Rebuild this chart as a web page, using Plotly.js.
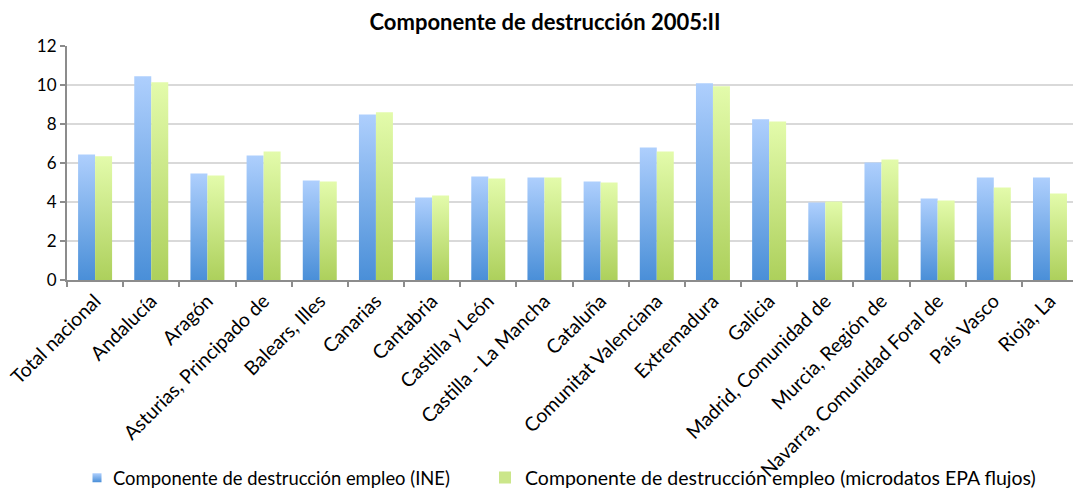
<!DOCTYPE html>
<html>
<head>
<meta charset="utf-8">
<script src="https://cdn.plot.ly/plotly-3.0.1.min.js"></script>
<style>
html,body{margin:0;padding:0;background:#fff;}
#chart{width:1073px;height:488px;}
</style>
</head>
<body>
<div id="chart"></div>
<script>
const categories = ["Total nacional","Andalucía","Aragón","Asturias, Principado de","Balears, Illes","Canarias","Cantabria","Castilla y León","Castilla - La Mancha","Cataluña","Comunitat Valenciana","Extremadura","Galicia","Madrid, Comunidad de","Murcia, Región de","Navarra, Comunidad Foral de","País Vasco","Rioja, La"];
const ineValues = [6.44,10.45,5.46,6.39,5.10,8.49,4.23,5.31,5.26,5.05,6.80,10.09,8.24,3.97,6.03,4.18,5.26,5.26];
const epaValues = [6.34,10.14,5.36,6.59,5.05,8.60,4.33,5.21,5.26,5.00,6.59,9.93,8.13,4.02,6.18,4.08,4.74,4.43];
const seriesNames = ["Componente de destrucción empleo (INE)","Componente de destrucción empleo (microdatos EPA flujos)"];
const chartTitle = "Componente de destrucción 2005:II";

const font = "Lato, 'Open Sans', sans-serif";
const data = [
  {type:"bar", x:categories, y:ineValues, name:seriesNames[0], legend:"legend", marker:{color:"#7aaeea", line:{width:0}}},
  {type:"bar", x:categories, y:epaValues, name:seriesNames[1], legend:"legend2", marker:{color:"#cbe68a", line:{width:0}}}
];
const legendBase = {orientation:"h", xref:"container", yref:"container", xanchor:"left", y:0.021, yanchor:"middle",
  font:{family:font, size:18.4, color:"#000"}, itemwidth:30, bgcolor:"rgba(0,0,0,0)", borderwidth:0};
const layout = {
  width:1073, height:488,
  margin:{l:67, r:0, t:46, b:208},
  paper_bgcolor:"#fff", plot_bgcolor:"#fff",
  font:{family:font, size:18, color:"#000"},
  title:{text:"<b>"+chartTitle+"</b>", x:0.508, xanchor:"center", y:0.955, yanchor:"middle", font:{family:font, size:22, color:"#000"}},
  bargap:0.395, bargroupgap:0,
  barmode:"group",
  showlegend:true,
  legend:Object.assign({}, legendBase, {x:73/1073}),
  legend2:Object.assign({}, legendBase, {x:485/1073, font:{family:font, size:19.5, color:"#000"}}),
  xaxis:{type:"category", range:[-0.5,17.41], tickangle:-45, showline:true, linecolor:"#8c8c8c", linewidth:2,
         ticks:"outside", tickson:"boundaries", ticklen:5, tickcolor:"#8c8c8c", tickwidth:2, showgrid:false,
         tickfont:{family:font, size:19.5, color:"#000"}, automargin:false},
  yaxis:{range:[0,12], dtick:2, showline:true, linecolor:"#8c8c8c", linewidth:2, ticks:"outside", ticklen:5, tickwidth:2,
         tickcolor:"#8c8c8c", showgrid:true, gridcolor:"#d9d9d9", gridwidth:2, zeroline:false,
         tickfont:{family:font, size:17, color:"#000"}, automargin:false}
};
Plotly.newPlot("chart", data, layout, {displayModeBar:false, staticPlot:true}).then(function(gd){
  const svg = gd.querySelector("svg.main-svg");
  const ns = "http://www.w3.org/2000/svg";
  const defs = document.createElementNS(ns, "defs");
  function grad(id, top, bottom){
    const g = document.createElementNS(ns, "linearGradient");
    g.setAttribute("id", id); g.setAttribute("x1","0"); g.setAttribute("y1","0"); g.setAttribute("x2","0"); g.setAttribute("y2","1");
    const s1 = document.createElementNS(ns, "stop"); s1.setAttribute("offset","0"); s1.setAttribute("stop-color", top);
    const s2 = document.createElementNS(ns, "stop"); s2.setAttribute("offset","1"); s2.setAttribute("stop-color", bottom);
    g.appendChild(s1); g.appendChild(s2); defs.appendChild(g);
  }
  grad("gBlue", "#aecffd", "#4a8fd8");
  grad("gGreen", "#e3fbab", "#add05c");
  svg.insertBefore(defs, svg.firstChild);
  const ids = ["gBlue","gGreen"];
  gd.querySelectorAll(".barlayer .trace").forEach(function(t, i){
    t.querySelectorAll("path").forEach(function(p){ p.style.fill = "url(#"+ids[i]+")"; });
  });
  gd.querySelectorAll(".legend").forEach(function(lg, i){
    lg.querySelectorAll(".legendpoints path").forEach(function(p){
      p.style.fill = "url(#"+ids[i]+")"; p.style.stroke="none";
      p.setAttribute("transform", "translate(24,0) scale(0.75)");
    });
  });
});
</script>
</body>
</html>
